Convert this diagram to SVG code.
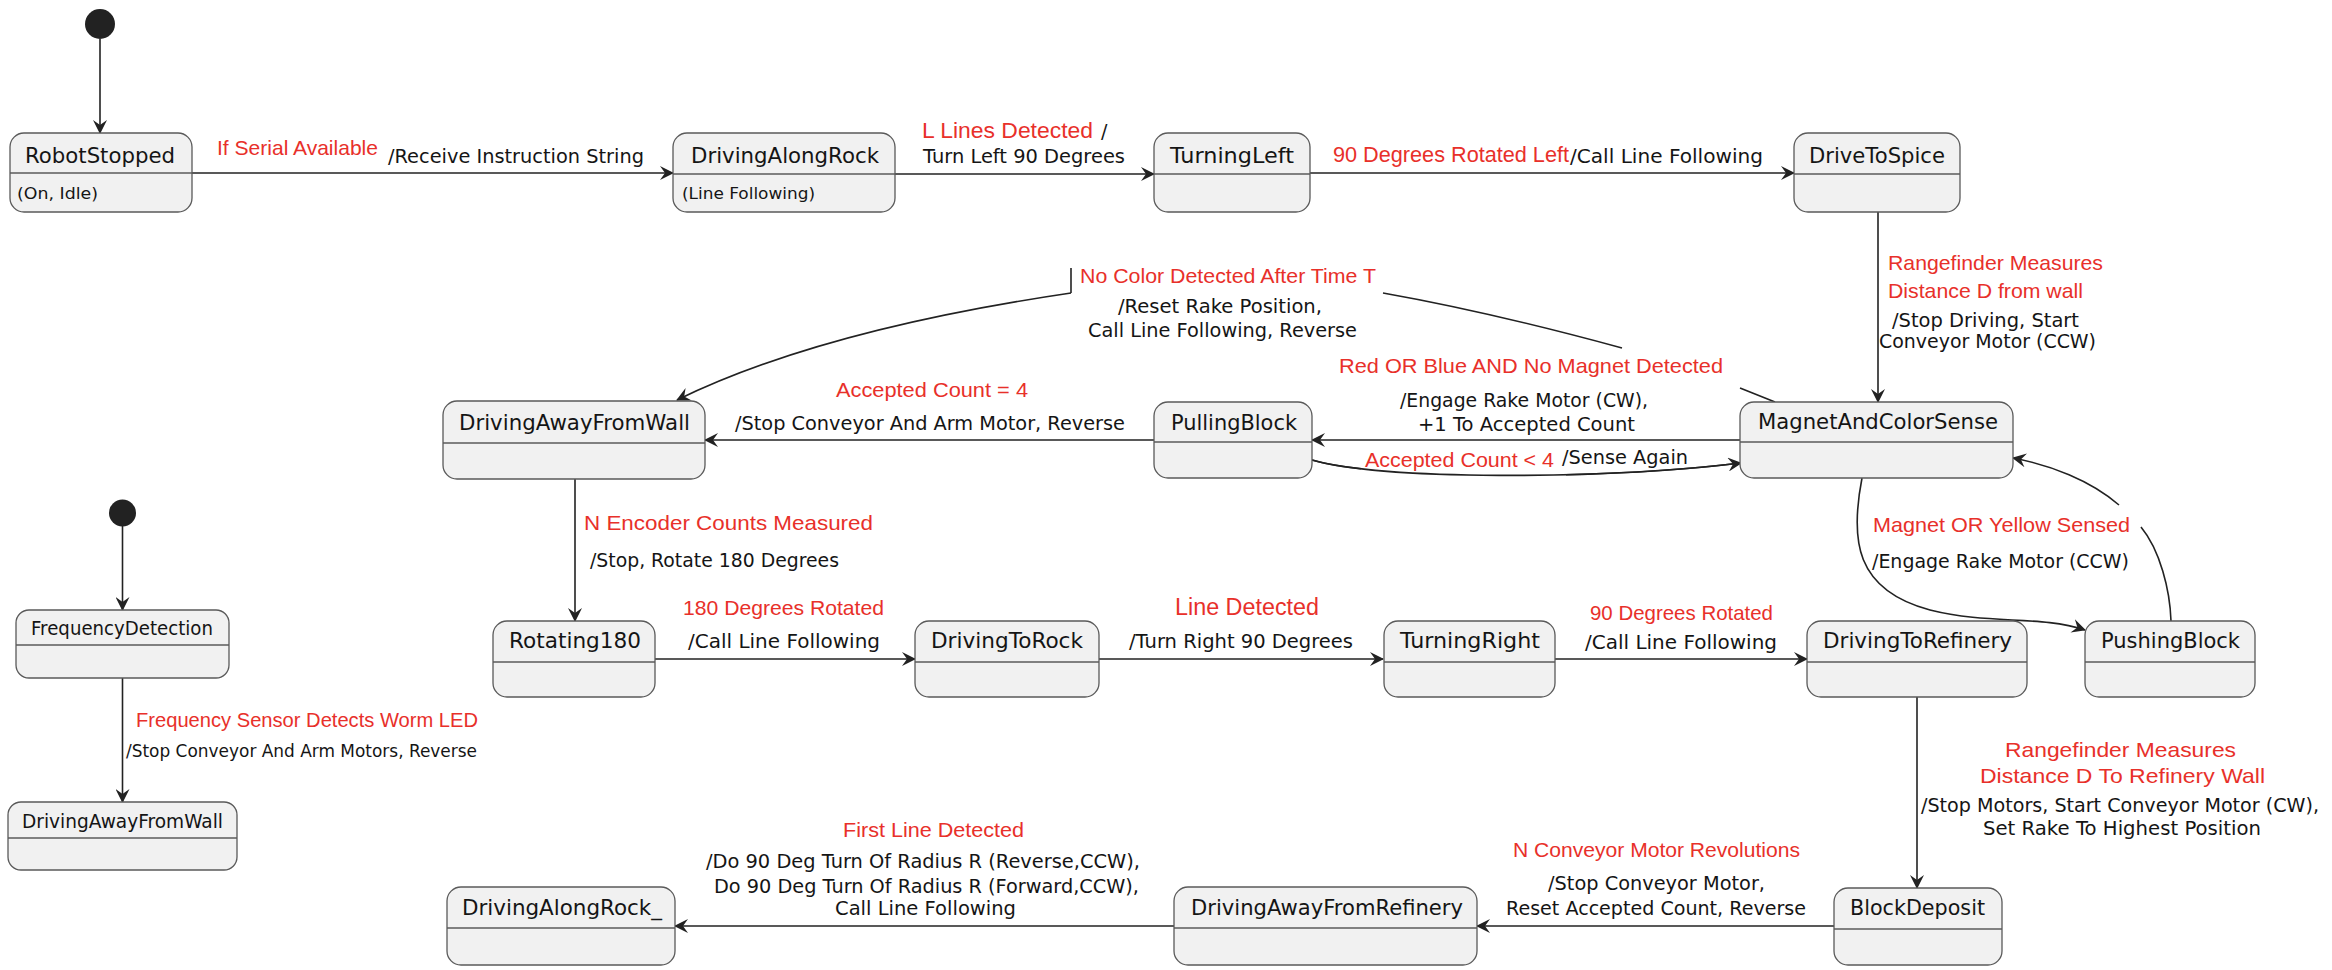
<svg xmlns="http://www.w3.org/2000/svg" width="2332" height="970" viewBox="0 0 2332 970">
<style>
.st{fill:#F1F1F1;stroke:#5A5A5A;stroke-width:1.3}
.dv{stroke:#5A5A5A;stroke-width:1.3}
.tt{font-family:"DejaVu Sans",sans-serif;font-size:22px;fill:#151515}
.ts{font-family:"DejaVu Sans",sans-serif;font-size:19px;fill:#151515}
.sub{font-family:"DejaVu Sans",sans-serif;font-size:16px;fill:#151515}
.lb{font-family:"DejaVu Sans",sans-serif;font-size:19px;fill:#151515}
.rd{font-family:"Liberation Sans",Arial,sans-serif;font-size:21px;fill:#E8302A}
.ln{fill:none;stroke:#222;stroke-width:1.6}
.ini{fill:#222}
</style>
<defs>
<marker id="ah" markerUnits="userSpaceOnUse" viewBox="0 0 14 14" refX="13" refY="7" markerWidth="14" markerHeight="14" orient="auto">
<path d="M0,0 L14,7 L0,14 L5,7 Z" fill="#222"/>
</marker>
</defs>
<rect width="2332" height="970" fill="#fff"/>

<g id="connectors">
<line class="ln" x1="100" y1="39" x2="100" y2="133" marker-end="url(#ah)"/>
<line class="ln" x1="192" y1="173" x2="673" y2="173" marker-end="url(#ah)"/>
<line class="ln" x1="895" y1="174" x2="1154" y2="174" marker-end="url(#ah)"/>
<line class="ln" x1="1310" y1="173" x2="1794" y2="173" marker-end="url(#ah)"/>
<line class="ln" x1="1878" y1="212" x2="1878" y2="402" marker-end="url(#ah)"/>
<line class="ln" x1="1740" y1="440" x2="1312" y2="440" marker-end="url(#ah)"/>
<line class="ln" x1="1154" y1="440" x2="705" y2="440" marker-end="url(#ah)"/>
<path class="ln" d="M1775,402 L1740,388"/>
<path class="ln" d="M1622,348 Q1490,312 1383,293"/>
<path class="ln" d="M1071,268 L1071,293"/>
<path class="ln" d="M1071,293 Q820,330 677,400" marker-end="url(#ah)"/>
<path class="ln" d="M1312,460 C1380,480 1600,480 1741,463" stroke="#E4E4E4"/>
<path class="ln" d="M1312,460 C1380,480 1600,480 1741,463" stroke-dasharray="50 205 1000" marker-end="url(#ah)"/>
<line class="ln" x1="575" y1="479" x2="575" y2="621" marker-end="url(#ah)"/>
<line class="ln" x1="655" y1="659" x2="915" y2="659" marker-end="url(#ah)"/>
<line class="ln" x1="1099" y1="659" x2="1383" y2="659" marker-end="url(#ah)"/>
<line class="ln" x1="1555" y1="659" x2="1807" y2="659" marker-end="url(#ah)"/>
<path class="ln" d="M1862,478 C1850,540 1855,590 1930,610 C1990,625 2040,615 2085,630" marker-end="url(#ah)"/>
<path class="ln" d="M2171,621 C2170,590 2160,550 2141,527"/>
<path class="ln" d="M2119,505 C2090,480 2050,465 2013,458" marker-end="url(#ah)"/>
<line class="ln" x1="1917" y1="697" x2="1917" y2="888" marker-end="url(#ah)"/>
<line class="ln" x1="1834" y1="926" x2="1477" y2="926" marker-end="url(#ah)"/>
<line class="ln" x1="1174" y1="926" x2="675" y2="926" marker-end="url(#ah)"/>
<line class="ln" x1="122.5" y1="526" x2="122.5" y2="610" marker-end="url(#ah)"/>
<line class="ln" x1="122.5" y1="678" x2="122.5" y2="802" marker-end="url(#ah)"/>
</g>

<g id="labels">
<text class="rd" x="217" y="155" textLength="161" lengthAdjust="spacingAndGlyphs">If Serial Available</text>
<text class="lb" x="388" y="163" textLength="256" lengthAdjust="spacingAndGlyphs">/Receive Instruction String</text>
<text class="rd" x="922" y="138" textLength="171" lengthAdjust="spacingAndGlyphs" style="font-size:22px">L Lines Detected</text>
<text class="lb" x="1101" y="138">/</text>
<text class="lb" x="923" y="163" textLength="202" lengthAdjust="spacingAndGlyphs">Turn Left 90 Degrees</text>
<text class="rd" x="1333" y="162" textLength="236" lengthAdjust="spacingAndGlyphs" style="font-size:22px">90 Degrees Rotated Left</text>
<text class="lb" x="1570" y="163" textLength="193" lengthAdjust="spacingAndGlyphs">/Call Line Following</text>
<text class="rd" x="1888" y="270" textLength="215" lengthAdjust="spacingAndGlyphs">Rangefinder Measures</text>
<text class="rd" x="1888" y="298" textLength="195" lengthAdjust="spacingAndGlyphs">Distance D from wall</text>
<text class="lb" x="1892" y="327" textLength="187" lengthAdjust="spacingAndGlyphs">/Stop Driving, Start</text>
<text class="lb" x="1879" y="348" textLength="217" lengthAdjust="spacingAndGlyphs">Conveyor Motor (CCW)</text>
<text class="rd" x="1080" y="283" textLength="296" lengthAdjust="spacingAndGlyphs">No Color Detected After Time T</text>
<text class="lb" x="1118" y="313" textLength="204" lengthAdjust="spacingAndGlyphs">/Reset Rake Position,</text>
<text class="lb" x="1088" y="337" textLength="269" lengthAdjust="spacingAndGlyphs">Call Line Following, Reverse</text>
<text class="rd" x="1339" y="373" textLength="384" lengthAdjust="spacingAndGlyphs">Red OR Blue AND No Magnet Detected</text>
<text class="lb" x="1400" y="407" textLength="248" lengthAdjust="spacingAndGlyphs">/Engage Rake Motor (CW),</text>
<text class="lb" x="1418" y="431" textLength="217" lengthAdjust="spacingAndGlyphs">+1 To Accepted Count</text>
<text class="rd" x="1365" y="467" textLength="189" lengthAdjust="spacingAndGlyphs">Accepted Count &lt; 4</text>
<text class="lb" x="1562" y="464" textLength="126" lengthAdjust="spacingAndGlyphs">/Sense Again</text>
<text class="rd" x="836" y="397" textLength="192" lengthAdjust="spacingAndGlyphs">Accepted Count = 4</text>
<text class="lb" x="735" y="430" textLength="390" lengthAdjust="spacingAndGlyphs">/Stop Conveyor And Arm Motor, Reverse</text>
<text class="rd" x="584" y="530" textLength="289" lengthAdjust="spacingAndGlyphs">N Encoder Counts Measured</text>
<text class="lb" x="590" y="567" textLength="249" lengthAdjust="spacingAndGlyphs">/Stop, Rotate 180 Degrees</text>
<text class="rd" x="683" y="615" textLength="201" lengthAdjust="spacingAndGlyphs">180 Degrees Rotated</text>
<text class="lb" x="688" y="648" textLength="192" lengthAdjust="spacingAndGlyphs">/Call Line Following</text>
<text class="rd" x="1175" y="615" textLength="144" lengthAdjust="spacingAndGlyphs" style="font-size:23px">Line Detected</text>
<text class="lb" x="1129" y="648" textLength="224" lengthAdjust="spacingAndGlyphs">/Turn Right 90 Degrees</text>
<text class="rd" x="1590" y="620" textLength="183" lengthAdjust="spacingAndGlyphs">90 Degrees Rotated</text>
<text class="lb" x="1585" y="649" textLength="192" lengthAdjust="spacingAndGlyphs">/Call Line Following</text>
<text class="rd" x="1873" y="532" textLength="257" lengthAdjust="spacingAndGlyphs">Magnet OR Yellow Sensed</text>
<text class="lb" x="1872" y="568" textLength="257" lengthAdjust="spacingAndGlyphs">/Engage Rake Motor (CCW)</text>
<text class="rd" x="2005" y="757" textLength="231" lengthAdjust="spacingAndGlyphs">Rangefinder Measures</text>
<text class="rd" x="1980" y="783" textLength="285" lengthAdjust="spacingAndGlyphs">Distance D To Refinery Wall</text>
<text class="lb" x="1921" y="812" textLength="398" lengthAdjust="spacingAndGlyphs">/Stop Motors, Start Conveyor Motor (CW),</text>
<text class="lb" x="1983" y="835" textLength="278" lengthAdjust="spacingAndGlyphs">Set Rake To Highest Position</text>
<text class="rd" x="1513" y="857" textLength="287" lengthAdjust="spacingAndGlyphs">N Conveyor Motor Revolutions</text>
<text class="lb" x="1548" y="890" textLength="217" lengthAdjust="spacingAndGlyphs">/Stop Conveyor Motor,</text>
<text class="lb" x="1506" y="915" textLength="300" lengthAdjust="spacingAndGlyphs">Reset Accepted Count, Reverse</text>
<text class="rd" x="843" y="837" textLength="181" lengthAdjust="spacingAndGlyphs">First Line Detected</text>
<text class="lb" x="706" y="868" textLength="434" lengthAdjust="spacingAndGlyphs">/Do 90 Deg Turn Of Radius R (Reverse,CCW),</text>
<text class="lb" x="714" y="893" textLength="425" lengthAdjust="spacingAndGlyphs">Do 90 Deg Turn Of Radius R (Forward,CCW),</text>
<text class="lb" x="835" y="915" textLength="181" lengthAdjust="spacingAndGlyphs">Call Line Following</text>
<text class="rd" x="136" y="727" textLength="342" lengthAdjust="spacingAndGlyphs">Frequency Sensor Detects Worm LED</text>
<text class="lb" x="126" y="757" textLength="351" lengthAdjust="spacingAndGlyphs" style="font-size:17px">/Stop Conveyor And Arm Motors, Reverse</text>
</g>

<g id="init1"><circle class="ini" cx="100" cy="24" r="15"/></g>
<g id="init2"><circle class="ini" cx="122.5" cy="513" r="13.5"/></g>

<g id="RobotStopped"><rect class="st" x="10" y="133" width="182" height="79" rx="14"/><line class="dv" x1="10" y1="173" x2="192" y2="173"/>
<text class="tt" x="25" y="163" textLength="150" lengthAdjust="spacingAndGlyphs">RobotStopped</text>
<text class="sub" x="17" y="199" textLength="81" lengthAdjust="spacingAndGlyphs">(On, Idle)</text></g>
<g id="DrivingAlongRock"><rect class="st" x="673" y="133" width="222" height="79" rx="14"/><line class="dv" x1="673" y1="174" x2="895" y2="174"/>
<text class="tt" x="691" y="163" textLength="188" lengthAdjust="spacingAndGlyphs">DrivingAlongRock</text>
<text class="sub" x="682" y="199" textLength="133" lengthAdjust="spacingAndGlyphs">(Line Following)</text></g>
<g id="TurningLeft"><rect class="st" x="1154" y="133" width="156" height="79" rx="14"/><line class="dv" x1="1154" y1="174" x2="1310" y2="174"/>
<text class="tt" x="1170" y="163" textLength="124" lengthAdjust="spacingAndGlyphs">TurningLeft</text></g>
<g id="DriveToSpice"><rect class="st" x="1794" y="133" width="166" height="79" rx="14"/><line class="dv" x1="1794" y1="174" x2="1960" y2="174"/>
<text class="tt" x="1809" y="163" textLength="136" lengthAdjust="spacingAndGlyphs">DriveToSpice</text></g>

<g id="DrivingAwayFromWall"><rect class="st" x="443" y="401" width="262" height="78" rx="14"/><line class="dv" x1="443" y1="443" x2="705" y2="443"/>
<text class="tt" x="459" y="430" textLength="231" lengthAdjust="spacingAndGlyphs">DrivingAwayFromWall</text></g>
<g id="PullingBlock"><rect class="st" x="1154" y="402" width="158" height="76" rx="14"/><line class="dv" x1="1154" y1="442" x2="1312" y2="442"/>
<text class="tt" x="1171" y="430" textLength="126" lengthAdjust="spacingAndGlyphs">PullingBlock</text></g>
<g id="MagnetAndColorSense"><rect class="st" x="1740" y="402" width="273" height="76" rx="14"/><line class="dv" x1="1740" y1="442" x2="2013" y2="442"/>
<text class="tt" x="1758" y="429" textLength="240" lengthAdjust="spacingAndGlyphs">MagnetAndColorSense</text></g>

<g id="Rotating180"><rect class="st" x="493" y="621" width="162" height="76" rx="14"/><line class="dv" x1="493" y1="662" x2="655" y2="662"/>
<text class="tt" x="509" y="648" textLength="132" lengthAdjust="spacingAndGlyphs">Rotating180</text></g>
<g id="DrivingToRock"><rect class="st" x="915" y="621" width="184" height="76" rx="14"/><line class="dv" x1="915" y1="662" x2="1099" y2="662"/>
<text class="tt" x="931" y="648" textLength="152" lengthAdjust="spacingAndGlyphs">DrivingToRock</text></g>
<g id="TurningRight"><rect class="st" x="1384" y="621" width="171" height="76" rx="14"/><line class="dv" x1="1384" y1="662" x2="1555" y2="662"/>
<text class="tt" x="1400" y="648" textLength="140" lengthAdjust="spacingAndGlyphs">TurningRight</text></g>
<g id="DrivingToRefinery"><rect class="st" x="1807" y="621" width="220" height="76" rx="14"/><line class="dv" x1="1807" y1="662" x2="2027" y2="662"/>
<text class="tt" x="1823" y="648" textLength="189" lengthAdjust="spacingAndGlyphs">DrivingToRefinery</text></g>
<g id="PushingBlock"><rect class="st" x="2085" y="621" width="170" height="76" rx="14"/><line class="dv" x1="2085" y1="662" x2="2255" y2="662"/>
<text class="tt" x="2101" y="648" textLength="139" lengthAdjust="spacingAndGlyphs">PushingBlock</text></g>

<g id="DrivingAlongRock_"><rect class="st" x="447" y="887" width="228" height="78" rx="14"/><line class="dv" x1="447" y1="928" x2="675" y2="928"/>
<text class="tt" x="462" y="915" textLength="200" lengthAdjust="spacingAndGlyphs">DrivingAlongRock_</text></g>
<g id="DrivingAwayFromRefinery"><rect class="st" x="1174" y="887" width="303" height="78" rx="14"/><line class="dv" x1="1174" y1="928" x2="1477" y2="928"/>
<text class="tt" x="1191" y="915" textLength="272" lengthAdjust="spacingAndGlyphs">DrivingAwayFromRefinery</text></g>
<g id="BlockDeposit"><rect class="st" x="1834" y="888" width="168" height="77" rx="14"/><line class="dv" x1="1834" y1="929" x2="2002" y2="929"/>
<text class="tt" x="1850" y="915" textLength="135" lengthAdjust="spacingAndGlyphs">BlockDeposit</text></g>

<g id="FrequencyDetection"><rect class="st" x="16" y="610" width="213" height="68" rx="13"/><line class="dv" x1="16" y1="645" x2="229" y2="645"/>
<text class="ts" x="31" y="635" textLength="182" lengthAdjust="spacingAndGlyphs">FrequencyDetection</text></g>
<g id="DrivingAwayFromWall2"><rect class="st" x="8" y="802" width="229" height="68" rx="13"/><line class="dv" x1="8" y1="838" x2="237" y2="838"/>
<text class="ts" x="22" y="828" textLength="201" lengthAdjust="spacingAndGlyphs">DrivingAwayFromWall</text></g>
</svg>
